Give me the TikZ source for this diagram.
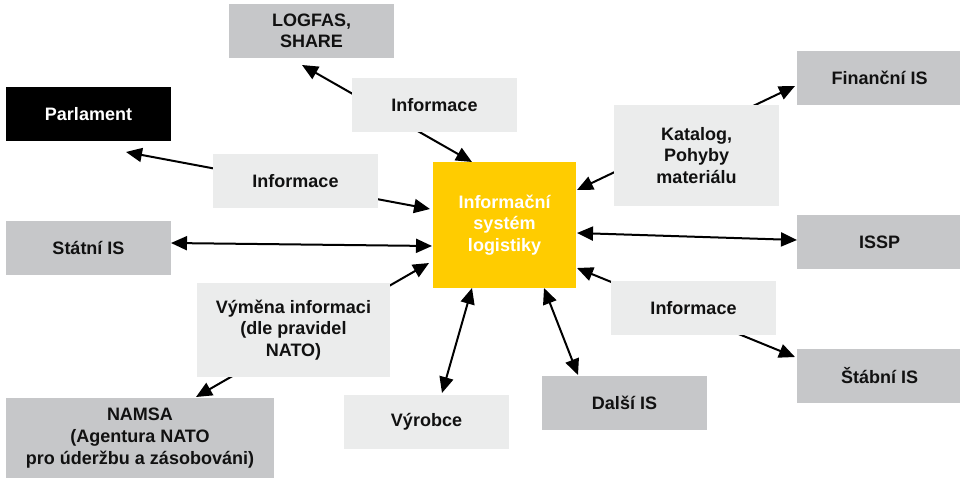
\documentclass[tikz,border=0pt]{standalone}
\usepackage{fontspec}
\setmainfont{Liberation Sans}
\usetikzlibrary{arrows.meta}
\pgfdeclarelayer{bg}
\pgfsetlayers{bg,main}
\definecolor{sysgray}{HTML}{C6C7C9}
\definecolor{infogray}{HTML}{EBECEC}
\definecolor{logyellow}{HTML}{FFCC00}
\definecolor{txt}{HTML}{111111}
\begin{document}
\begin{tikzpicture}[x=1pt,y=-1pt,
  box/.style={minimum width=165pt,minimum height=54pt,inner sep=0pt,align=center,
    font=\fontsize{18}{21.6}\selectfont\bfseries,text=txt},
  sys/.style={box,fill=sysgray},
  info/.style={box,fill=infogray},
  conn/.style={line width=2pt,{Triangle[length=16pt,width=14pt]}-{Triangle[length=16pt,width=14pt]}}]
\useasboundingbox (0,0) rectangle (960,477);
% nodes
\node[sys] (logfas) at (311.5,31) {LOGFAS,\\SHARE};
\node[box,fill=black,text=white] (parl) at (88.5,114) {Parlament};
\node[sys] (stat) at (88.5,248) {Státní IS};
\node[sys,minimum width=268pt,minimum height=80pt] (namsa) at (140,438) {NAMSA\\(Agentura NATO\\pro úderžbu a zásobováni)};
\node[info] (vyrobce) at (426.5,422) {Výrobce};
\node[sys] (dalsi) at (624.5,403) {Další IS};
\node[sys] (stab) at (879.5,376) {Štábní IS};
\node[sys] (issp) at (879.5,242) {ISSP};
\node[sys] (fin) at (879.5,78) {Finanční IS};
\node[box,fill=logyellow,text=white,minimum width=143pt,minimum height=126pt] (ils) at (504.5,225) {Informační\\systém\\logistiky};
% label boxes
\node[info] (infotop) at (434.5,105) {Informace};
\node[info] (infoleft) at (295.5,181) {Informace};
\node[info,minimum width=193pt,minimum height=94pt] (vymena) at (293.5,330) {Výměna informaci\\(dle pravidel\\NATO)};
\node[info,minimum height=101pt] (katalog) at (696.5,155.5) {Katalog,\\Pohyby\\materiálu};
\node[info] (inforight) at (693.5,308) {Informace};
% connector end points
\coordinate (cLog) at (302,65);   \coordinate (cIlsLog) at (472,162);
\coordinate (cParl) at (126,152); \coordinate (cIlsParl) at (430,209);
\coordinate (cStat) at (171,243); \coordinate (cIlsStat) at (432,246);
\coordinate (cNamsa) at (196,397);\coordinate (cIlsNamsa) at (429,263);
\coordinate (cVyr) at (442,393);  \coordinate (cIlsVyr) at (472,288);
\coordinate (cDal) at (578,375);  \coordinate (cIlsDal) at (544,288);
\coordinate (cStab) at (795,357); \coordinate (cIlsStab) at (577,268);
\coordinate (cIssp) at (797,240); \coordinate (cIlsIssp) at (577,233);
\coordinate (cFin) at (795,86);   \coordinate (cIlsFin) at (577,190);
\begin{pgfonlayer}{bg}
\fill[white] (0,0) rectangle (960,477);
\draw[conn] (cLog) -- (cIlsLog);
\draw[conn] (cParl) -- (cIlsParl);
\draw[conn] (cStat) -- (cIlsStat);
\draw[conn] (cNamsa) -- (cIlsNamsa);
\draw[conn] (cVyr) -- (cIlsVyr);
\draw[conn] (cDal) -- (cIlsDal);
\draw[conn] (cStab) -- (cIlsStab);
\draw[conn] (cIssp) -- (cIlsIssp);
\draw[conn] (cFin) -- (cIlsFin);
\end{pgfonlayer}
\end{tikzpicture}
\end{document}
